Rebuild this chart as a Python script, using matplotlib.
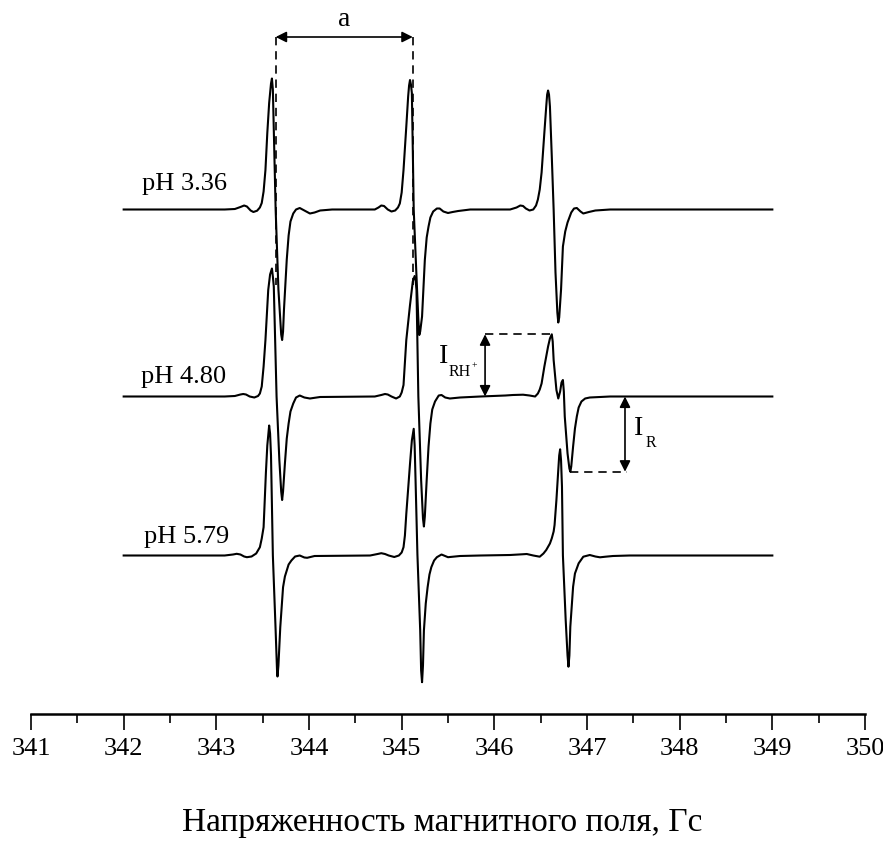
import matplotlib
matplotlib.use("Agg")
import matplotlib.pyplot as plt
import numpy as np

plt.rcParams["font.family"] = ["Liberation Serif", "DejaVu Serif"]

# --- EPR spectra of the nitroxide probe at three pH values ---------------
ph_labels = ["pH 3.36", "pH 4.80", "pH 5.79"]

# (magnetic field, G ; first-derivative signal, arb. units)
spectrum_336 = [
    (342.00, 0), (343.09, 0), (343.20, 0.005), (343.26, 0.025), (343.30, 0.04),
    (343.33, 0.03), (343.37, -0.01), (343.40, -0.025), (343.44, -0.012), (343.47, 0.02),
    (343.49, 0.065), (343.51, 0.18), (343.53, 0.395), (343.55, 0.765), (343.57, 1.065),
    (343.59, 1.26), (343.60, 1.31), (343.61, 1.2), (343.625, 0.6), (343.64, 0),
    (343.67, -0.80), (343.70, -1.25), (343.71, -1.305), (343.72, -1.22), (343.73, -1.0),
    (343.76, -0.50), (343.78, -0.26), (343.80, -0.12), (343.83, -0.04), (343.86, 0.0),
    (343.90, 0.015), (343.96, -0.015), (344.01, -0.04), (344.06, -0.03), (344.12, -0.01),
    (344.25, 0),
    (344.71, 0), (344.75, 0.02), (344.78, 0.04), (344.81, 0.035), (344.85, 0.0),
    (344.89, -0.02), (344.93, -0.01), (344.96, 0.02), (344.98, 0.06), (345.00, 0.17),
    (345.02, 0.395), (345.05, 0.83), (345.07, 1.13), (345.08, 1.24), (345.09, 1.295),
    (345.10, 1.25), (345.11, 1.165), (345.12, 0.6), (345.13, 0), (345.16, -0.67),
    (345.18, -1.1), (345.19, -1.255), (345.20, -1.22), (345.22, -1.07), (345.25, -0.505),
    (345.27, -0.28), (345.29, -0.17), (345.31, -0.08), (345.34, -0.02), (345.38, 0.01),
    (345.41, 0.01), (345.45, -0.02), (345.50, -0.035), (345.55, -0.025), (345.61, -0.015),
    (345.74, 0),
    (346.17, 0), (346.24, 0.02), (346.28, 0.04), (346.31, 0.035), (346.34, 0.01),
    (346.38, -0.01), (346.42, 0.0), (346.45, 0.04), (346.47, 0.10), (346.49, 0.2),
    (346.51, 0.37), (346.54, 0.77), (346.56, 1.03), (346.57, 1.15), (346.58, 1.19),
    (346.59, 1.15), (346.60, 1.03), (346.62, 0.53), (346.64, 0), (346.66, -0.63),
    (346.68, -1.03), (346.69, -1.13), (346.70, -1.08), (346.72, -0.80), (346.74, -0.37),
    (346.765, -0.22), (346.79, -0.13), (346.83, -0.03), (346.86, 0.01), (346.89, 0.015),
    (346.93, -0.02), (346.96, -0.04), (347.02, -0.025), (347.09, -0.01), (347.25, 0),
    (349.00, 0),
]

spectrum_480 = [
    (342.00, 0), (343.09, 0), (343.20, 0.005), (343.26, 0.02), (343.29, 0.025),
    (343.32, 0.02), (343.36, 0.0), (343.41, -0.01), (343.45, 0.005), (343.47, 0.03),
    (343.49, 0.1), (343.51, 0.3), (343.53, 0.565), (343.56, 1.065), (343.58, 1.22),
    (343.60, 1.28), (343.61, 1.2), (343.62, 1.10), (343.65, 0), (343.68, -0.635),
    (343.70, -0.95), (343.71, -1.035), (343.72, -0.95), (343.74, -0.67), (343.76, -0.42),
    (343.78, -0.27), (343.80, -0.15), (343.83, -0.07), (343.86, -0.01), (343.90, 0.01),
    (343.95, -0.01), (344.01, -0.02), (344.12, -0.005),
    (344.71, 0), (344.78, 0.015), (344.82, 0.025), (344.85, 0.02), (344.89, 0.0),
    (344.94, -0.02), (344.98, 0), (345.00, 0.04), (345.02, 0.115), (345.05, 0.565),
    (345.09, 0.915), (345.12, 1.15), (345.14, 1.205), (345.15, 1.17), (345.16, 1.065),
    (345.18, 0), (345.21, -0.835), (345.23, -1.22), (345.24, -1.30), (345.25, -1.2),
    (345.27, -0.835), (345.29, -0.5), (345.31, -0.27), (345.33, -0.13), (345.36, -0.05),
    (345.40, 0.01), (345.43, 0.015), (345.47, -0.01), (345.52, -0.02), (345.63, -0.01),
    (345.85, 0),
    (346.12, 0.01), (346.20, 0.015), (346.31, 0.018), (346.38, 0.01), (346.44, 0),
    (346.47, 0.03), (346.49, 0.07), (346.51, 0.13), (346.54, 0.30), (346.58, 0.50),
    (346.60, 0.58), (346.62, 0.622), (346.63, 0.55), (346.64, 0.365), (346.67, 0.065),
    (346.69, -0.02), (346.71, 0.05), (346.725, 0.14), (346.74, 0.165), (346.75, 0.05),
    (346.76, -0.20), (346.79, -0.57), (346.81, -0.72), (346.82, -0.752), (346.83, -0.70),
    (346.85, -0.50), (346.87, -0.32), (346.89, -0.20), (346.91, -0.11), (346.94, -0.05),
    (346.98, -0.02), (347.03, -0.01), (347.25, 0), (349.00, 0),
]

spectrum_579 = [
    (342.00, 0), (343.09, 0), (343.18, 0.01), (343.22, 0.017), (343.26, 0.01),
    (343.30, -0.01), (343.33, -0.017), (343.38, -0.01), (343.43, 0.02), (343.47, 0.083),
    (343.49, 0.17), (343.51, 0.283), (343.52, 0.5), (343.535, 0.83), (343.55, 1.1),
    (343.57, 1.30), (343.58, 1.22), (343.59, 1.0), (343.61, 0), (343.64, -0.75),
    (343.655, -1.15), (343.66, -1.21), (343.67, -1.1), (343.69, -0.717), (343.72, -0.317),
    (343.74, -0.21), (343.76, -0.15), (343.78, -0.09), (343.81, -0.05), (343.85, -0.01),
    (343.90, 0), (343.95, -0.02), (343.98, -0.023), (344.06, -0.005),
    (344.66, 0), (344.74, 0.015), (344.78, 0.023), (344.82, 0.015), (344.86, 0.0),
    (344.92, -0.015), (344.97, 0), (345.00, 0.03), (345.02, 0.083), (345.035, 0.2),
    (345.05, 0.417), (345.09, 0.917), (345.11, 1.15), (345.13, 1.267), (345.14, 1.1),
    (345.15, 0.75), (345.17, 0.01), (345.20, -0.75), (345.21, -1.15), (345.22, -1.267),
    (345.23, -1.1), (345.24, -0.75), (345.26, -0.48), (345.28, -0.317), (345.30, -0.19),
    (345.32, -0.117), (345.35, -0.05), (345.38, -0.017), (345.43, 0.01), (345.50, -0.017),
    (345.63, -0.005), (345.85, 0),
    (346.17, 0.005), (346.30, 0.012), (346.35, 0.015), (346.42, 0), (346.49, -0.012),
    (346.53, 0.02), (346.56, 0.055), (346.60, 0.12), (346.62, 0.172), (346.64, 0.24),
    (346.65, 0.305), (346.67, 0.555), (346.69, 0.855), (346.70, 1.0), (346.71, 1.062),
    (346.72, 0.95), (346.73, 0.688), (346.74, 0), (346.77, -0.645), (346.79, -1.0),
    (346.80, -1.112), (346.81, -1.0), (346.82, -0.712), (346.85, -0.312), (346.87, -0.18),
    (346.91, -0.078), (346.96, -0.012), (347.03, 0.005), (347.09, -0.01), (347.14, -0.018),
    (347.20, -0.012), (347.28, -0.005), (347.46, 0), (349.00, 0),
]

# hyperfine line centres used for the splitting "a"
hfs_centers = [343.64, 345.12]

spectra = [spectrum_336, spectrum_480, spectrum_579]
offsets = [3.46, 1.59, 0.0]

fig = plt.figure(figsize=(8.83, 8.44), dpi=100)
ax = fig.add_axes([31 / 883, 130 / 844, 834 / 883, 714 / 844])
ax.set_xlim(341, 350)
ax.set_ylim(-1.585, 5.555)

for spec, off in zip(spectra, offsets):
    f, s = np.array(spec).T
    ax.plot(f, s + off, color="black", lw=1.5, solid_joinstyle="round")

# pH labels
label_x = [342.20, 342.19, 342.22]
label_dy = [0.195, 0.132, 0.122]
for txt, lx, off, dy in zip(ph_labels, label_x, offsets, label_dy):
    ax.text(lx, off + dy, txt, fontsize=19, ha="left", va="baseline")

dash = (0, (5, 3.5))
arrow_kw = dict(arrowstyle="<|-|>", color="black", lw=1.2,
                mutation_scale=16, shrinkA=0, shrinkB=0)

# hyperfine splitting a
a_y = 5.185
for xc in hfs_centers:
    ax.plot([xc, xc], [a_y, 2.705], color="black", lw=1.2, ls=dash)
ax.annotate("", xy=(hfs_centers[0], a_y), xytext=(hfs_centers[1], a_y),
            arrowprops=arrow_kw)
ax.text(np.mean(hfs_centers), 5.355, "a", fontsize=20, ha="center", va="center")

# intensities of the protonated (RH+) and free (R) forms, pH 4.80 spectrum
f480, s480 = np.array(spectrum_480).T
line3 = f480 > 346.3
rh_peak = s480[line3].max()
rh_x = f480[line3][np.argmax(s480[line3])]
r_min = s480[line3].min()
r_x = f480[line3][np.argmin(s480[line3])]
base2 = offsets[1]

x_rh = 345.90
ax.plot([x_rh, rh_x], [base2 + rh_peak] * 2, color="black", lw=1.2, ls=dash)
ax.annotate("", xy=(x_rh, base2 + rh_peak), xytext=(x_rh, base2), arrowprops=arrow_kw)
ax.text(345.45, 1.925, "I", fontsize=20, ha="center", va="baseline")
ax.text(345.51, 1.795, "RH", fontsize=11.5, ha="left", va="baseline")
ax.text(345.755, 1.875, "+", fontsize=7, ha="left", va="baseline")

x_r = 347.41
ax.plot([r_x, 347.43], [base2 + r_min] * 2, color="black", lw=1.2, ls=dash)
ax.annotate("", xy=(x_r, base2 + r_min), xytext=(x_r, base2), arrowprops=arrow_kw)
ax.text(347.56, 1.205, "I", fontsize=20, ha="center", va="baseline")
ax.text(347.63, 1.088, "R", fontsize=11.5, ha="left", va="baseline")

# field axis
for side in ["left", "right", "top"]:
    ax.spines[side].set_visible(False)
ax.spines["bottom"].set_linewidth(1.8)
ax.set_yticks([])
ax.set_xticks(np.arange(341, 351, 1))
ax.set_xticks(np.arange(341.5, 350, 1), minor=True)
ax.tick_params(axis="x", which="major", length=11.5, width=1.2, labelsize=19, pad=6)
ax.tick_params(axis="x", which="minor", length=6.5, width=1.2)
ax.set_xlabel("Напряженность магнитного поля, Гс", fontsize=24)
ax.xaxis.set_label_coords((442 - 31) / 834, -109 / 714)
ax.xaxis.label.set_va("center")

fig.savefig("out.png", dpi=100)
